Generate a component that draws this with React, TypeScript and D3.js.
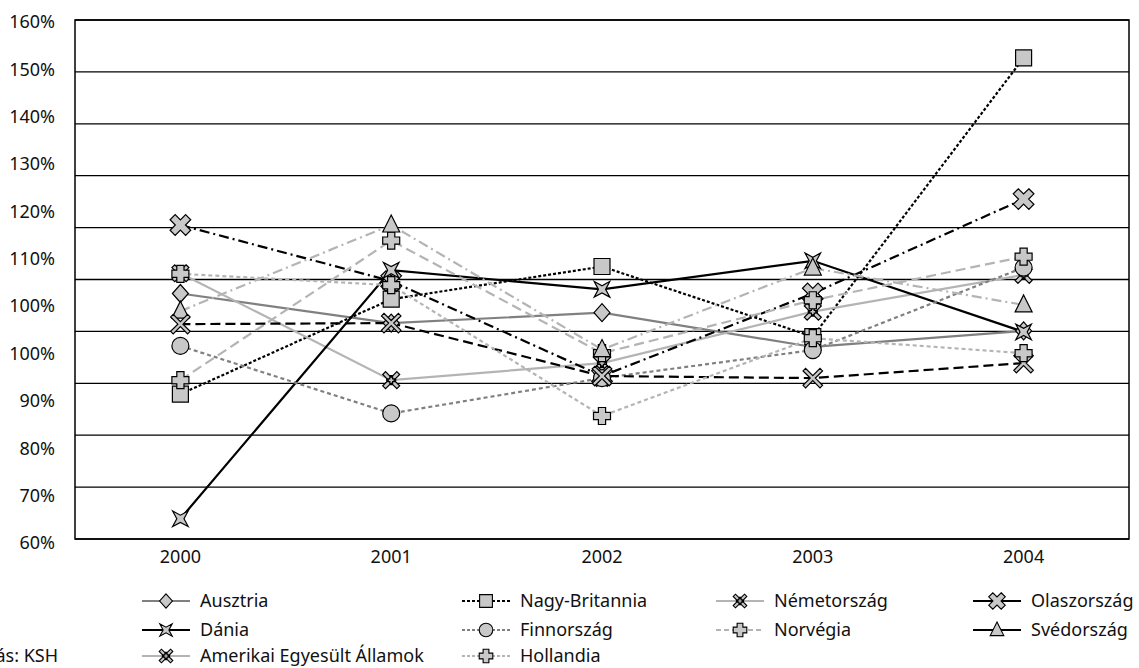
import * as d3 from 'd3';
import { useEffect, useRef } from 'react';

// chart values (index against 1.0 = 100%)
const years = ['2000', '2001', '2002', '2003', '2004'];
const yTickLabels = ['160%', '150%', '140%', '130%', '120%', '110%', '100%', '100%', '90%', '80%', '70%', '60%'];

const ausztria = [107.3, 101.6, 103.6, 97.0, 100.1];
const nagyBritannia = [87.9, 106.2, 112.5, 99.0, 152.7];
const nemetorszag = [111.2, 90.6, 93.9, 103.8, 110.9];
const olaszorszag = [120.5, 109.7, 91.4, 107.3, 125.5];
const dania = [63.9, 111.8, 108.1, 113.6, 99.9];
const finnorszag = [97.2, 84.2, 91.0, 96.4, 112.3];
const norvegia = [90.6, 117.5, 95.8, 106.0, 114.4];
const svedorszag = [103.9, 120.5, 96.5, 112.2, 105.1];
const usa = [101.4, 101.6, 91.4, 91.0, 93.9];
const hollandia = [111.1, 108.9, 83.7, 98.7, 95.8];

const sourceNote = 'Forrás: KSH';

type Shape = 'diamond' | 'square' | 'asterisk' | 'fatX' | 'star' | 'circle' | 'plus' | 'triangle' | 'thinX';

const series = [
    { name: 'Ausztria', values: ausztria },
    { name: 'Nagy-Britannia', values: nagyBritannia },
    { name: 'Németország', values: nemetorszag },
    { name: 'Olaszország', values: olaszorszag },
    { name: 'Dánia', values: dania },
    { name: 'Finnország', values: finnorszag },
    { name: 'Norvégia', values: norvegia },
    { name: 'Svédország', values: svedorszag },
    { name: 'Amerikai Egyesült Államok', values: usa },
    { name: 'Hollandia', values: hollandia },
];

const DARK = '#000';
const MID = '#808080';
const LIGHT = '#b4b4b4';
const FILL = '#c8c8c8';

// how each series is drawn in the plot
const plotStyle: Record<string, { color: string; dash: string; shape: Shape }> = {
    'Ausztria': { color: MID, dash: '', shape: 'diamond' },
    'Nagy-Britannia': { color: DARK, dash: '3,2', shape: 'square' },
    'Németország': { color: LIGHT, dash: '', shape: 'asterisk' },
    'Olaszország': { color: DARK, dash: '10,4,2,4', shape: 'fatX' },
    'Dánia': { color: DARK, dash: '', shape: 'star' },
    'Finnország': { color: MID, dash: '4,3', shape: 'circle' },
    'Norvégia': { color: LIGHT, dash: '10,5', shape: 'plus' },
    'Svédország': { color: LIGHT, dash: '10,4,2,4', shape: 'triangle' },
    'Amerikai Egyesült Államok': { color: DARK, dash: '10,5', shape: 'thinX' },
    'Hollandia': { color: LIGHT, dash: '4,3', shape: 'plus' },
};

// the legend does not quite agree with the plot, copied as it is drawn
const legendStyle: Record<string, { color: string; dash: string; shape: Shape }> = {
    'Ausztria': { color: MID, dash: '', shape: 'diamond' },
    'Nagy-Britannia': { color: DARK, dash: '3,2', shape: 'square' },
    'Németország': { color: LIGHT, dash: '', shape: 'asterisk' },
    'Olaszország': { color: DARK, dash: '', shape: 'fatX' },
    'Dánia': { color: DARK, dash: '', shape: 'star' },
    'Finnország': { color: MID, dash: '3,2', shape: 'circle' },
    'Norvégia': { color: LIGHT, dash: '5,3', shape: 'plus' },
    'Svédország': { color: DARK, dash: '', shape: 'triangle' },
    'Amerikai Egyesült Államok': { color: LIGHT, dash: '', shape: 'asterisk' },
    'Hollandia': { color: LIGHT, dash: '3,2', shape: 'plus' },
};

function poly(pts: [number, number][]) {
    return 'M' + pts.map(p => p.join(',')).join('L') + 'Z';
}

function rotatedCross(len: number, half: number) {
    const pts: [number, number][] = [
        [-half, -len], [half, -len], [half, -half], [len, -half], [len, half], [half, half],
        [half, len], [-half, len], [-half, half], [-len, half], [-len, -half], [-half, -half],
    ];
    const c = Math.SQRT1_2;
    return poly(pts.map(([x, y]) => [+(x * c - y * c).toFixed(2), +(x * c + y * c).toFixed(2)] as [number, number]));
}

function plusPath(len: number, half: number) {
    return poly([
        [-half, -len], [half, -len], [half, -half], [len, -half], [len, half], [half, half],
        [half, len], [-half, len], [-half, half], [-len, half], [-len, -half], [-half, -half],
    ]);
}

function shapePath(shape: Shape, k = 1) {
    switch (shape) {
        case 'diamond': return poly([[0, -9 * k], [8 * k, 0], [0, 9 * k], [-8 * k, 0]]);
        case 'square': return poly([[-8 * k, -8 * k], [8 * k, -8 * k], [8 * k, 8 * k], [-8 * k, 8 * k]]);
        case 'circle': return d3.symbol(d3.symbolCircle, Math.PI * 8.5 * 8.5 * k * k)()!;
        case 'triangle': return poly([[0, -10 * k], [8.5 * k, 7 * k], [-8.5 * k, 7 * k]]);
        case 'plus': return plusPath(8.5 * k, 3.6 * k);
        case 'fatX': return rotatedCross(11 * k, 3.6 * k);
        case 'thinX': return rotatedCross(12 * k, 1.8 * k);
        case 'asterisk': return rotatedCross(10 * k, 2 * k) + plusPath(4.5 * k, 1.4 * k);
        case 'star': {
            const pts: [number, number][] = [];
            for (let i = 0; i < 8; i++) {
                const a = Math.PI / 4 + (i * Math.PI) / 4;
                const r = i % 2 === 0 ? 11 * k : 3.6 * k;
                pts.push([+(r * Math.cos(a)).toFixed(2), +(r * Math.sin(a)).toFixed(2)]);
            }
            return poly(pts);
        }
    }
}

export default function App() {
    const ref = useRef<SVGSVGElement | null>(null);

    useEffect(() => {
        const svg = d3.select(ref.current);
        svg.selectAll('*').remove();

        const width = 1139;
        const height = 668;
        const plot = { left: 75, right: 1129, top: 20, bottom: 539 };
        const font = '"Noto Sans", "DejaVu Sans", sans-serif';

        svg.attr('width', width).attr('height', height)
            .style('font-family', font);

        const x = d3.scalePoint()
            .domain(years)
            .range([plot.left, plot.right])
            .padding(0.5);

        const y = d3.scaleLinear()
            .domain([60, 160])
            .range([plot.bottom, plot.top]);

        // the printed tick labels do not sit on the gridlines
        const yLabel = d3.scalePoint()
            .domain(yTickLabels.map((_, i) => String(i)))
            .range([plot.top + 2, plot.bottom + 4]);

        svg.append('g')
            .selectAll('line')
            .data(d3.range(60, 161, 10))
            .join('line')
            .attr('x1', plot.left)
            .attr('x2', plot.right)
            .attr('y1', d => y(d))
            .attr('y2', d => y(d))
            .attr('stroke', '#000')
            .attr('stroke-width', 1.3);

        svg.append('rect')
            .attr('x', plot.left)
            .attr('y', plot.top)
            .attr('width', plot.right - plot.left)
            .attr('height', plot.bottom - plot.top)
            .attr('fill', 'none')
            .attr('stroke', '#000')
            .attr('stroke-width', 1.5);

        svg.append('g')
            .selectAll('text')
            .data(yTickLabels)
            .join('text')
            .attr('x', 55)
            .attr('y', (_, i) => yLabel(String(i))!)
            .attr('dy', '0.35em')
            .attr('text-anchor', 'end')
            .attr('font-size', 18)
            .attr('fill', '#111')
            .text(d => d);

        svg.append('g')
            .selectAll('text')
            .data(years)
            .join('text')
            .attr('x', d => x(d)!)
            .attr('y', 563)
            .attr('text-anchor', 'middle')
            .attr('font-size', 18)
            .attr('fill', '#111')
            .text(d => d);

        const line = d3.line<number>()
            .x((_, i) => x(years[i])!)
            .y(d => y(d));

        const plotArea = svg.append('g');
        series.forEach(s => {
            const st = plotStyle[s.name];
            plotArea.append('path')
                .datum(s.values)
                .attr('fill', 'none')
                .attr('stroke', st.color)
                .attr('stroke-width', 2.2)
                .attr('stroke-dasharray', st.dash || null)
                .attr('d', line);
        });
        series.forEach(s => {
            const st = plotStyle[s.name];
            plotArea.append('g')
                .selectAll('path')
                .data(s.values)
                .join('path')
                .attr('transform', (d, i) => `translate(${x(years[i])},${y(d)})`)
                .attr('d', shapePath(st.shape))
                .attr('fill', FILL)
                .attr('stroke', '#000')
                .attr('stroke-width', 1.2);
        });

        // legend, 4 columns, filled row by row
        const colX = [142, 462, 716, 973];
        const rowY = [601, 630, 656];
        const legend = svg.append('g').attr('font-size', 18).attr('fill', '#111');
        series.forEach((s, i) => {
            const st = legendStyle[s.name];
            const gx = colX[i % 4];
            const gy = rowY[Math.floor(i / 4)];
            const g = legend.append('g').attr('transform', `translate(${gx},${gy})`);
            g.append('line')
                .attr('x1', 0).attr('x2', 48)
                .attr('stroke', st.color)
                .attr('stroke-width', 2.2)
                .attr('stroke-dasharray', st.dash || null);
            g.append('path')
                .attr('transform', 'translate(24,0)')
                .attr('d', shapePath(st.shape, 0.8))
                .attr('fill', FILL)
                .attr('stroke', '#000')
                .attr('stroke-width', 1.1);
            g.append('text')
                .attr('x', 58)
                .attr('dy', '0.35em')
                .text(s.name);
        });

        svg.append('text')
            .attr('x', 58)
            .attr('y', 662)
            .attr('text-anchor', 'end')
            .attr('font-size', 18)
            .attr('fill', '#111')
            .text(sourceNote);
    }, []);

    return <svg ref={ref} style={{ position: 'absolute', left: 0, top: 0, background: '#fff' }}></svg>;
}
